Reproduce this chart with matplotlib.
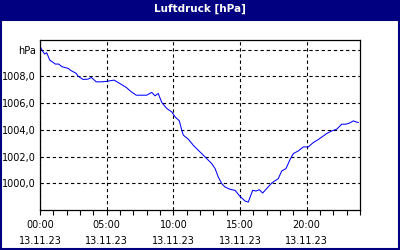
import matplotlib
matplotlib.use("Agg")
import matplotlib.pyplot as plt
from matplotlib.patches import Rectangle

# Luftdruck 13.11.23 (Stunden, hPa)
stunden = [0.05, 0.17, 0.35, 0.5, 0.73, 1.15, 1.4, 1.65, 2.1, 2.35, 2.72, 2.85,
           3.22, 3.6, 3.85, 4.22, 4.6, 4.97, 5.55, 5.98, 6.47, 6.85, 7.22, 7.85,
           8.0, 8.38, 8.63, 8.87, 9.13, 9.5, 9.88, 10.13, 10.45, 10.63, 10.75,
           11.12, 11.5, 11.87, 12.13, 12.5, 12.88, 13.13, 13.37, 13.63, 13.88,
           14.25, 14.63, 15.0, 15.38, 15.62, 15.95, 16.2, 16.45, 16.7, 17.0,
           17.38, 17.87, 18.13, 18.45, 18.75, 19.0, 19.37, 19.75, 20.12, 20.5,
           20.87, 21.5, 21.88, 22.25, 22.63, 22.95, 23.25, 23.5, 23.7, 23.87]
druck = [1010.17, 1009.92, 1009.67, 1009.77, 1009.22, 1008.92, 1008.92, 1008.72,
         1008.6, 1008.42, 1008.22, 1008.02, 1007.77, 1007.79, 1007.92, 1007.59,
         1007.59, 1007.62, 1007.72, 1007.47, 1007.17, 1006.84, 1006.59, 1006.59,
         1006.59, 1006.8, 1006.54, 1006.72, 1006.05, 1005.6, 1005.34, 1004.97,
         1004.67, 1003.97, 1003.6, 1003.3, 1002.84, 1002.47, 1002.22, 1001.85,
         1001.47, 1001.1, 1000.47, 999.97, 999.72, 999.55, 999.47, 999.02,
         998.67, 998.59, 999.47, 999.42, 999.52, 999.27, 999.6, 1000.02, 1000.35,
         1000.92, 1001.1, 1001.77, 1002.22, 1002.42, 1002.72, 1002.72, 1003.05,
         1003.27, 1003.72, 1003.92, 1004.04, 1004.42, 1004.42, 1004.52, 1004.67,
         1004.59, 1004.55]

y_ticks = [1000, 1002, 1004, 1006, 1008, 1010]
y_labels = ["1000,0", "1002,0", "1004,0", "1006,0", "1008,0", "hPa"]
x_ticks = [0, 5, 10, 15, 20]
x_labels = ["00:00\n13.11.23", "05:00\n13.11.23", "10:00\n13.11.23",
            "15:00\n13.11.23", "20:00\n13.11.23"]

navy = "#000080"
fig = plt.figure(figsize=(4, 2.5), dpi=100)
fig.patch.set_facecolor("white")

# Titelleiste und Rahmen
fig.patches.append(Rectangle((0, 1 - 20 / 250), 1, 20 / 250, transform=fig.transFigure,
                             facecolor=navy, edgecolor="none"))
fig.patches.append(Rectangle((0.5 / 400, 1 / 250), 398 / 400, 229 / 250,
                             transform=fig.transFigure, facecolor="none",
                             edgecolor=navy, linewidth=1.5))
fig.text(0.5, 1 - 9 / 250, "Luftdruck [hPa]", color="white", fontsize=7.5,
         fontweight="bold", ha="center", va="center")

ax = fig.add_axes([40 / 400, 1 - 210 / 250, 320 / 400, 170 / 250])
ax.plot(stunden, druck, color="#0000ff", linewidth=0.75)
ax.set_xlim(0, 24)
ax.set_ylim(998, 1010.72)

ax.set_yticks(y_ticks)
ax.set_yticklabels(y_labels)
ax.set_xticks(x_ticks)
ax.set_xticklabels(x_labels, linespacing=1.7)
ax.set_xticks(range(0, 25), minor=True)

ax.tick_params(axis="y", length=0, pad=3, labelsize=7)
ax.tick_params(axis="x", which="both", length=3.5, width=0.8, direction="out",
               pad=4, labelsize=7)

ax.grid(True, which="major", color="black", linestyle=(0, (3, 2.5)), linewidth=0.8)
for s in ax.spines.values():
    s.set_linewidth(0.9)
    s.set_color("black")

fig.savefig("out.png", dpi=100)
